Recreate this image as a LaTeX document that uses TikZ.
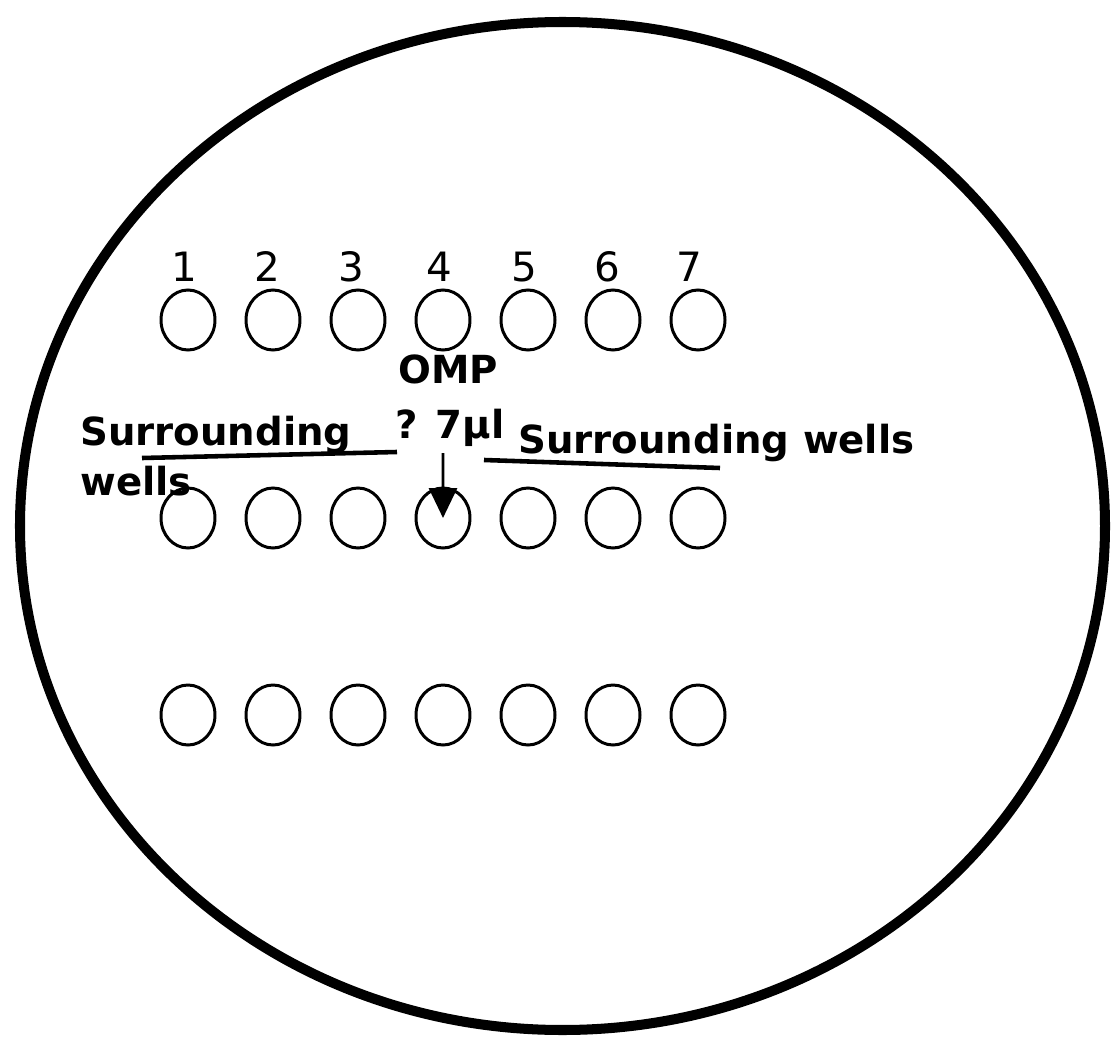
\documentclass[tikz,border=0pt]{standalone}
\usepackage{fontspec}
\setmainfont{DejaVu Sans}
\usetikzlibrary{arrows.meta, positioning, shapes.geometric}

\begin{document}
\begin{tikzpicture}[%
    >={Triangle[length=6mm, width=5.6mm]},
    node distance=1.7cm,
    on grid,
    well/.style={draw, ellipse, minimum width=1.08cm, minimum height=1.2cm, inner sep=0pt, line width=1.7pt},
    num/.style={inner sep=0pt, font=\fontsize{23}{23}\selectfont},
    lab/.style={inner sep=0pt, font=\bfseries\fontsize{22}{22}\selectfont},
    bar/.style={line width=2.6pt}
  ]

  \useasboundingbox (0,0) rectangle (22.28,-20.76);

  % plate
  \draw[line width=5.7pt] (11.25,-10.52) ellipse (10.85cm and 10.08cm);

  % top row
  \node[well] (a1) at (3.76,-6.40) {};
  \node[well] (a2) [right of=a1] {};
  \node[well] (a3) [right of=a2] {};
  \node[well] (a4) [right of=a3] {};
  \node[well] (a5) [right of=a4] {};
  \node[well] (a6) [right of=a5] {};
  \node[well] (a7) [right of=a6] {};

  % middle row
  \node[well] (b1) [below=3.96cm of a1] {};
  \node[well] (b2) [right of=b1] {};
  \node[well] (b3) [right of=b2] {};
  \node[well] (b4) [right of=b3] {};
  \node[well] (b5) [right of=b4] {};
  \node[well] (b6) [right of=b5] {};
  \node[well] (b7) [right of=b6] {};

  % bottom row
  \node[well] (c1) [below=3.94cm of b1] {};
  \node[well] (c2) [right of=c1] {};
  \node[well] (c3) [right of=c2] {};
  \node[well] (c4) [right of=c3] {};
  \node[well] (c5) [right of=c4] {};
  \node[well] (c6) [right of=c5] {};
  \node[well] (c7) [right of=c6] {};

  % well numbers
  \node[num] (n1) [above=1.06cm of a1, xshift=-0.08cm] {1};
  \node[num] (n2) [above=1.06cm of a2, xshift=-0.12cm] {2};
  \node[num] (n3) [above=1.06cm of a3, xshift=-0.14cm] {3};
  \node[num] (n4) [above=1.06cm of a4, xshift=-0.08cm] {4};
  \node[num] (n5) [above=1.06cm of a5, xshift=-0.08cm] {5};
  \node[num] (n6) [above=1.06cm of a6, xshift=-0.12cm] {6};
  \node[num] (n7) [above=1.06cm of a7, xshift=-0.18cm] {7};

  % labels
  \node[lab, anchor=base] (omp) at (8.96,-7.66) {OMP};
  \node[lab, anchor=base] (vol) at (9.00,-8.76) {? 7µl};
  \node[lab, anchor=base west] (sl) at (1.60,-8.90) {Surrounding};
  \node[lab, anchor=base west] (wl) at (1.60,-9.90) {wells};
  \node[lab, anchor=base west] (sr) at (10.36,-9.06) {Surrounding wells};

  \coordinate (la) at (2.84,-9.16);
  \coordinate (lb) at (7.94,-9.04);
  \coordinate (ra) at (9.68,-9.20);
  \coordinate (rb) at (14.40,-9.36);
  \coordinate (drop) at (8.86,-9.06);

  \draw[bar] (la) -- (lb);
  \draw[bar] (ra) -- (rb);
  \draw[->, line width=1.7pt] (drop) -- (b4.center);
\end{tikzpicture}
\end{document}
